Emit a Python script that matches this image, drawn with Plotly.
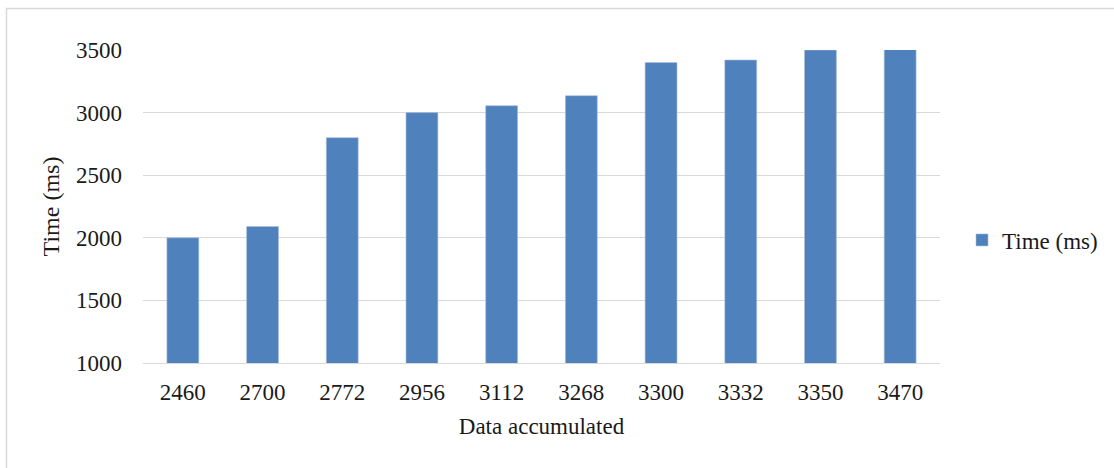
import plotly.graph_objects as go

categories = ["2460", "2700", "2772", "2956", "3112", "3268", "3300", "3332", "3350", "3470"]
time_ms = [2000, 2090, 2800, 3000, 3055, 3135, 3400, 3420, 3500, 3510]
y_ticks = [1000, 1500, 2000, 2500, 3000, 3500]

W, H = 1114, 468
L, R, T, B = 143, 174, 50, 105
pw, ph = W - L - R, H - T - B

FAM = "Liberation Serif, Times New Roman, serif"
font = dict(family=FAM, size=23, color="#1a1a1a")

fig = go.Figure()
fig.add_trace(go.Bar(
    x=categories, y=time_ms, name="Time (ms)",
    marker=dict(color="#4F81BD", line=dict(color="#A9BFDD", width=0.6)),
))

def px(x):
    return (x - L) / pw

def py(y):
    return (H - B - y) / ph

fig.add_shape(type="rect", xref="paper", yref="paper",
              x0=px(6.5), x1=px(1130), y0=py(480), y1=py(8.5),
              line=dict(color="#D9D9D9", width=1.5), fillcolor="rgba(0,0,0,0)", layer="below")

fig.update_layout(
    width=W, height=H,
    margin=dict(l=L, r=R, t=T, b=B, autoexpand=False),
    paper_bgcolor="white", plot_bgcolor="white",
    font=font,
    bargap=0.6,
    showlegend=True,
    legend=dict(x=px(962), y=py(240), xanchor="left", yanchor="middle",
                font=font, bgcolor="rgba(0,0,0,0)", itemwidth=30),
    xaxis=dict(type="category", showgrid=False, showline=True, linecolor="#D9D9D9", linewidth=1.3,
               ticks="", ticklabelstandoff=8, tickfont=font,
               title=dict(text="Data accumulated", font=font, standoff=14)),
    yaxis=dict(range=[1000, 3500], tickvals=y_ticks, showgrid=True, gridcolor="#D9D9D9", gridwidth=1.3,
               showline=False, zeroline=False, ticks="", ticklabelstandoff=20, tickfont=font,
               title=dict(text="Time (ms)", font=dict(family=FAM, size=24, color="#1a1a1a"), standoff=9)),
)

fig.write_html("out.html", config={"displayModeBar": False},
               post_script="document.body.style.margin='0';document.body.style.overflow='hidden';")
